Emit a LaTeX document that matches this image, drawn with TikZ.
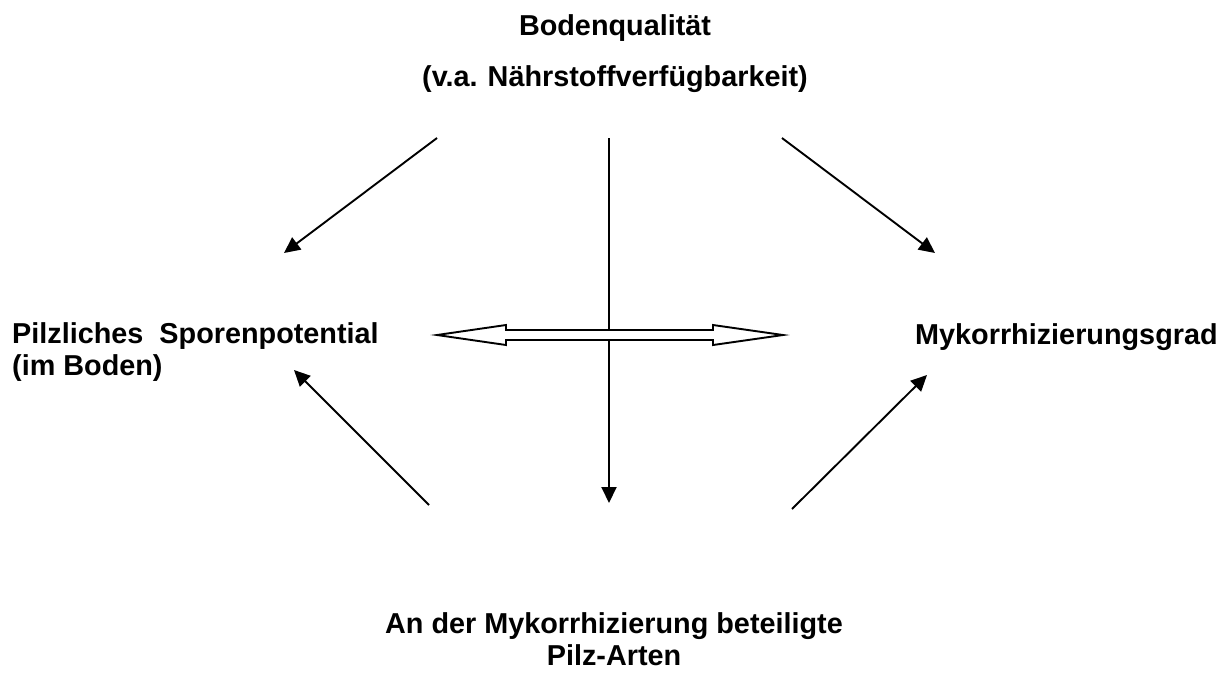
\documentclass[tikz,border=0pt]{standalone}
\usepackage{fontspec}
\setmainfont{Liberation Sans}
\usetikzlibrary{arrows.meta}
\begin{document}
\frenchspacing
\begin{tikzpicture}[x=1pt,y=-1pt,
  lbl/.style={inner sep=0pt,font=\fontsize{28.8}{32}\selectfont\bfseries},
  conn/.style={line width=1.9pt,-{Triangle[length=16pt,width=15pt]}},
  dbl/.style={line width=1.9pt,fill=white,line join=miter}]
\useasboundingbox (0,0) rectangle (1232,673);
\fill[white] (0,0) rectangle (1232,673);
% labels
\node[lbl,anchor=base] (boden) at (615,35)
  {\begin{tabular}[t]{@{}c@{}}Bodenqualität\\[19pt](v.a.\hspace{2pt} Nährstoffverfügbarkeit)\end{tabular}};
\node[lbl,anchor=base west] (sporen) at (12,343)
  {\begin{tabular}[t]{@{}l@{}}Pilzliches\hspace{8pt} Sporenpotential\\(im Boden)\end{tabular}};
\node[lbl,anchor=base west] (myko) at (915,344) {Mykorrhizierungsgrad};
\node[lbl,anchor=base] (arten) at (614,633)
  {\begin{tabular}[t]{@{}c@{}}An der Mykorrhizierung beteiligte\\Pilz-Arten\end{tabular}};
% connector end points
\coordinate (tl1) at (437,138); \coordinate (tl2) at (284,253);
\coordinate (tr1) at (782,138); \coordinate (tr2) at (935,253);
\coordinate (v1) at (609,138);  \coordinate (v2) at (609,503);
\coordinate (bl1) at (429,505); \coordinate (bl2) at (294,370);
\coordinate (br1) at (792,509); \coordinate (br2) at (927,375);
\draw[conn] (tl1) -- (tl2);
\draw[conn] (tr1) -- (tr2);
\draw[conn] (v1) -- (v2);
\draw[conn] (bl1) -- (bl2);
\draw[conn] (br1) -- (br2);
% double hollow arrow
\coordinate (dl) at (437,335); \coordinate (dr) at (783,335);
\draw[dbl] (dl) -- (506,325) -- (506,330) -- (713,330) -- (713,325) -- (dr)
  -- (713,345) -- (713,340) -- (506,340) -- (506,345) -- cycle;
\end{tikzpicture}
\end{document}
